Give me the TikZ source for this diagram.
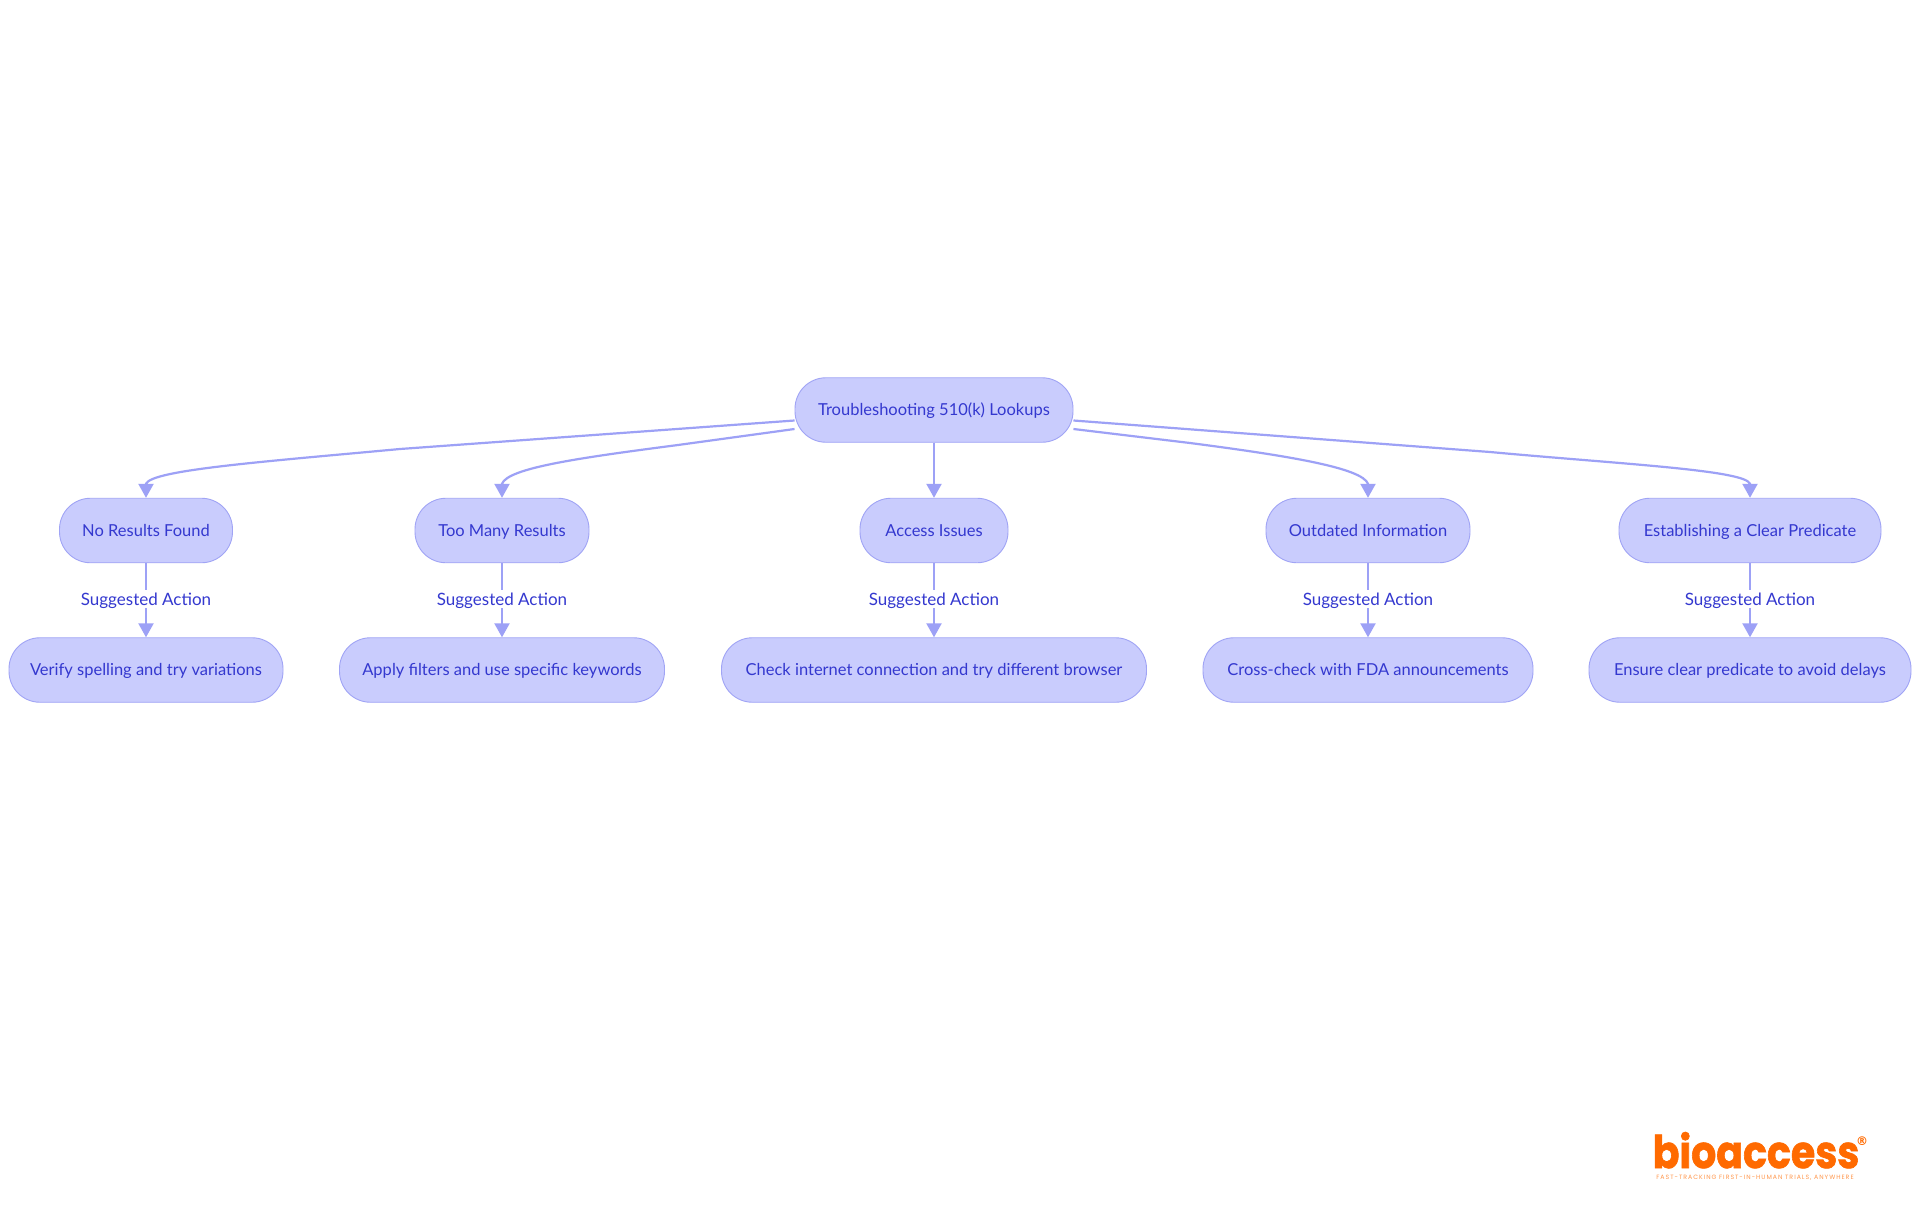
\documentclass[tikz,border=0pt]{standalone}
\usepackage{fontspec}
\setmainfont{Lato}
\newfontfamily\logofont[BoldFeatures={FakeBold=1.5}]{Poppins}
\newfontfamily\tagfont[LetterSpace=16]{Poppins}
\newfontfamily\regfont{DejaVu Sans}
\usetikzlibrary{arrows.meta,calc}
\definecolor{nodefill}{HTML}{C9CCFD}
\definecolor{nodeline}{HTML}{A0A4F5}
\definecolor{linkcol}{HTML}{9DA1F6}
\definecolor{txtcol}{HTML}{3438CF}
\definecolor{logocol}{HTML}{FF6A00}
\tikzset{
  x=1pt,y=-1pt,
  flow/.style={draw=nodeline,fill=nodefill,line width=0.9pt,rounded corners=31pt,minimum height=64.5pt,inner sep=0pt,text=txtcol,text height=14pt,text depth=3pt,font=\fontsize{16.5}{20}\selectfont},
  link/.style={draw=linkcol,line width=2.2pt,-{Triangle[length=14pt,width=15pt,fill=linkcol]},shorten >=0pt},
  lab/.style={fill=white,text=txtcol,inner xsep=1pt,inner ysep=0pt,text height=15.5pt,text depth=2.5pt,font=\fontsize{17}{20}\selectfont}
}
\begin{document}
\begin{tikzpicture}
\useasboundingbox (0,0) rectangle (1920,1215);
\fill[white] (0,0) rectangle (1920,1215);
\node[flow,minimum width=278pt] (root) at (934,410) {Troubleshooting 510(k) Lookups};
\node[flow,minimum width=173pt] (a1) at (146,530.5) {No Results Found};
\node[flow,minimum width=174pt] (a2) at (502,530.5) {Too Many Results};
\node[flow,minimum width=148pt] (a3) at (934,530.5) {Access Issues};
\node[flow,minimum width=204pt] (a4) at (1368,530.5) {Outdated Information};
\node[flow,minimum width=262pt] (a5) at (1750,530.5) {Establishing a Clear Predicate};
\node[flow,minimum width=274pt] (b1) at (146,670) {Verify spelling and try variations};
\node[flow,minimum width=325pt] (b2) at (502,670) {Apply filters and use specific keywords};
\node[flow,minimum width=425pt] (b3) at (934,670) {Check internet connection and try different browser};
\node[flow,minimum width=330pt] (b4) at (1368,670) {Cross-check with FDA announcements};
\node[flow,minimum width=322pt] (b5) at (1750,670) {Ensure clear predicate to avoid delays};
\draw[link] ($(root.west)+(0,10.5)$) -- (400,449) .. controls (260,462) and (152,470) .. ($(a1.north)+(0,-14)$) -- (a1.north);
\draw[link] ($(root.west)+(0,19)$) -- (678,445) .. controls (578,458) and (508,468) .. ($(a2.north)+(0,-14)$) -- (a2.north);
\draw[link] (root.south) -- (a3.north);
\draw[link] ($(root.east)+(0,19)$) -- (1190,443) .. controls (1290,456) and (1362,468) .. ($(a4.north)+(0,-14)$) -- (a4.north);
\draw[link] ($(root.east)+(0,10.5)$) -- (1490,452) .. controls (1620,464) and (1745,470) .. ($(a5.north)+(0,-14)$) -- (a5.north);
\foreach \i in {1,...,5}{
  \draw[link] (a\i.south) -- node[lab,pos=0.487] (l\i) {Suggested Action} (b\i.north);
}
\node[text=logocol,inner sep=0pt,text depth=0pt,font=\logofont\bfseries\fontsize{39.5}{44}\selectfont] (logo) at (1756,1150) {\scalebox{1}[1.14]{bioaccess}};
\node[text=logocol,inner sep=0pt,font=\regfont\bfseries\fontsize{12}{12}\selectfont] (reg) at (1862,1141) {®};
\node[text=logocol!70,inner sep=0pt,font=\tagfont\fontsize{6.2}{8}\selectfont] (tag) at (1755,1178) {FAST-TRACKING FIRST-IN-HUMAN TRIALS, ANYWHERE};
\end{tikzpicture}
\end{document}
